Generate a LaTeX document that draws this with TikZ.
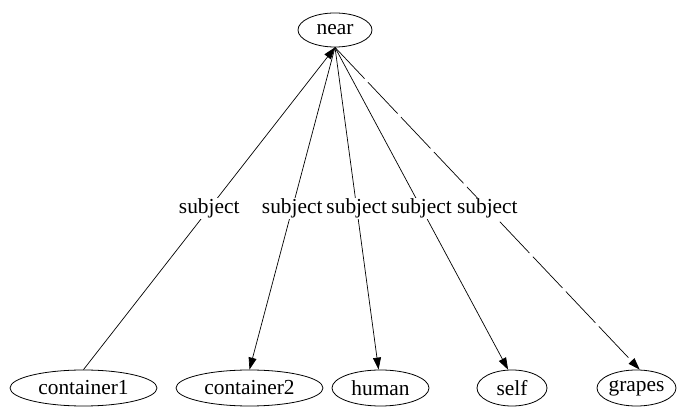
\documentclass[tikz,border=0pt]{standalone}
\usepackage{fontspec}
\setmainfont{LiberationSerif}[Extension=.ttf, UprightFont=*-Regular, BoldFont=*-Bold]
\usetikzlibrary{shapes.geometric,arrows.meta}
\begin{document}
\begin{tikzpicture}[x=1pt,y=-1pt,
  txt/.style={font=\rmfamily\fontsize{21.4}{25}\selectfont},
  vertex/.style={txt, draw, ellipse, line width=0.8pt, inner sep=0pt, minimum height=36pt},
  rel/.style={line width=0.7pt, -{Triangle[length=12pt,width=8pt]}},
  lbl/.style={txt, fill=white, inner sep=1pt}]
\useasboundingbox (0,0) rectangle (689,411);

% nodes
\node[vertex, minimum width=74pt, minimum height=34pt] (near) at (335,30) {near};
\node[vertex, minimum width=147pt] (c1)     at (83.5,388)  {container1};
\node[vertex, minimum width=147pt] (c2)     at (249.5,388) {container2};
\node[vertex, minimum width=97pt]  (human)  at (380.5,388) {human};
\node[vertex, minimum width=70pt]  (self)   at (512,388)   {self};
\node[vertex, minimum width=77pt]  (grapes) at (636.5,388) {grapes};

% relations
\draw[rel] (c1.north) -- node[lbl, pos=0.5] {subject} (near.south);
\draw[rel] (near.south) -- node[lbl, pos=0.5] {subject} (c2.north);
\draw[rel] (near.south) -- node[lbl, pos=0.5] {subject} (human.96);
\draw[rel] (near.south) -- node[lbl, pos=0.5] {subject} (self.102);
\draw[rel, dash pattern=on 43pt off 5pt] (near.south) -- node[lbl, pos=0.5] {subject} (grapes.80);
\end{tikzpicture}
\end{document}
